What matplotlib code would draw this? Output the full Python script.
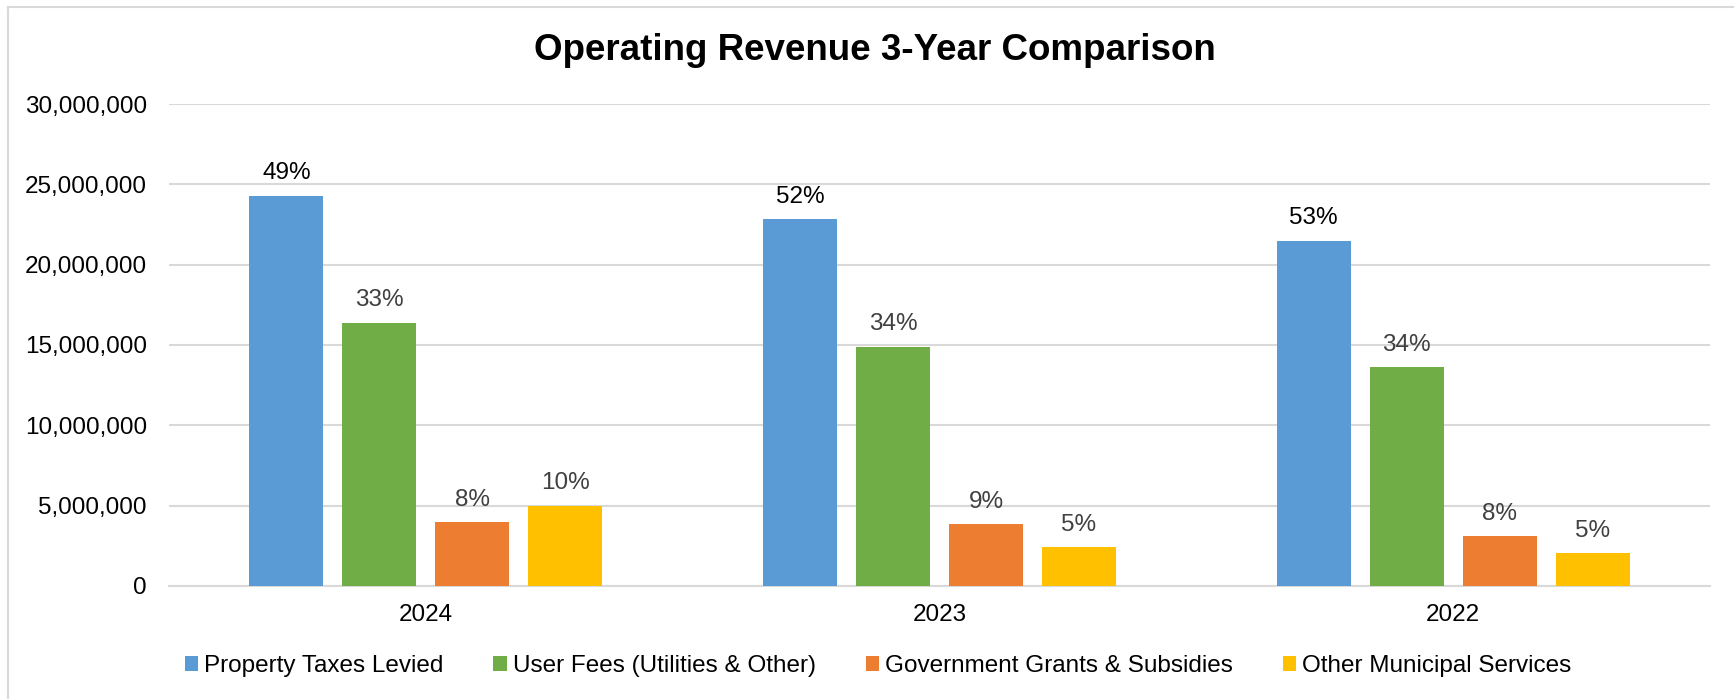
import matplotlib
matplotlib.use("Agg")
import matplotlib.pyplot as plt
from matplotlib.lines import Line2D
from matplotlib.ticker import FuncFormatter
import numpy as np

plt.rcParams['font.family'] = ['Liberation Sans', 'DejaVu Sans']

# ---------------- data ----------------
years = ["2024", "2023", "2022"]
series_names = ["Property Taxes Levied", "User Fees (Utilities & Other)",
                "Government Grants & Subsidies", "Other Municipal Services"]
property_taxes = [24300000, 22850000, 21500000]
user_fees = [16400000, 14900000, 13600000]
grants = [4000000, 3850000, 3100000]
other_services = [5000000, 2400000, 2050000]
property_pct = ["49%", "52%", "53%"]
user_pct = ["33%", "34%", "34%"]
grants_pct = ["8%", "9%", "8%"]
other_pct = ["10%", "5%", "5%"]

colors = ["#5B9BD5", "#70AD47", "#ED7D31", "#FFC000"]
label_colors = ["black", "#404040", "#404040", "#404040"]

W, H = 1734, 699
fig = plt.figure(figsize=(W / 100, H / 100), dpi=100)
ax = fig.add_axes([169 / W, (H - 586) / H, (1710 - 169) / W, (586 - 104) / H])

x = np.arange(len(years))
bw = 0.144
step = 0.181
all_vals = [property_taxes, user_fees, grants, other_services]
all_pct = [property_pct, user_pct, grants_pct, other_pct]

for i in range(4):
    pos = x + (i - 1.5) * step
    bars = ax.bar(pos, all_vals[i], width=bw, color=colors[i], label=series_names[i], zorder=3)
    for b, txt in zip(bars, all_pct[i]):
        ax.annotate(txt, (b.get_x() + b.get_width() / 2, b.get_height()),
                    xytext=(0, 16), textcoords="offset points",
                    ha="center", va="center", fontsize=17.5, color=label_colors[i])

ax.set_xlim(-0.5, 2.5)
ax.set_ylim(0, 30000000)
ax.set_yticks(np.arange(0, 30000001, 5000000))
ax.yaxis.set_major_formatter(FuncFormatter(lambda v, p: f"{int(v):,}"))
ax.set_xticks(x)
ax.set_xticklabels(years)
ax.tick_params(axis="both", length=0, labelsize=17.5)
ax.tick_params(axis="y", pad=16)
ax.tick_params(axis="x", pad=13)
ax.grid(axis="y", color="#D9D9D9", linewidth=1.5, zorder=0)
for s in ["top", "right", "left"]:
    ax.spines[s].set_visible(False)
ax.spines["bottom"].set_color("#D9D9D9")
ax.spines["bottom"].set_linewidth(1.5)

fig.text(875 / W, 1 - 50 / H, "Operating Revenue 3-Year Comparison",
         ha="center", va="center", fontsize=26.5, fontweight="bold")

fig.legend(loc="center", bbox_to_anchor=(878 / W, 1 - 666 / H), ncol=4, frameon=False,
           fontsize=17.5, handlelength=0.55, handleheight=0.55, handletextpad=0.25,
           columnspacing=2.05)

# outer chart frame (left and top visible)
fig.add_artist(Line2D([8 / W, 8 / W], [0, 1 - 7 / H], color="#D9D9D9", linewidth=1.5))
fig.add_artist(Line2D([8 / W, 1], [1 - 7 / H, 1 - 7 / H], color="#D9D9D9", linewidth=1.5))

fig.savefig("out.png", dpi=100)
